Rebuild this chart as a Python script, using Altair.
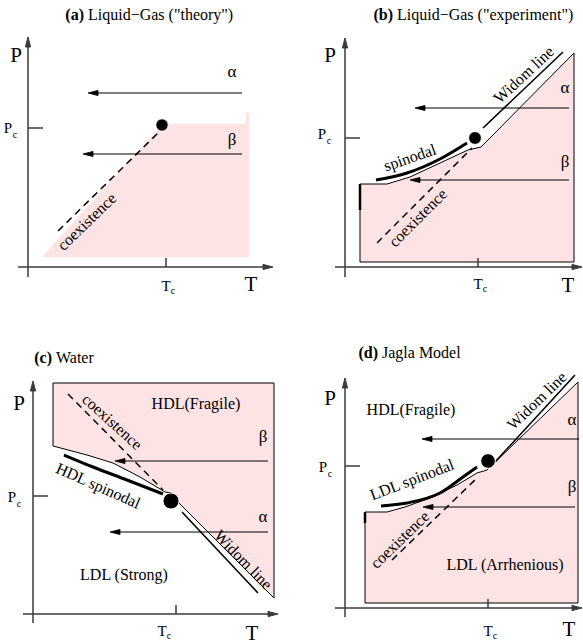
import altair as alt
import pandas as pd

# ------------------------------------------------------------------
# Schematic coordinates (T to the right, P drawn downward-reversed)
# ------------------------------------------------------------------
DOMAIN_T = [0, 583]
DOMAIN_P = [0, 644]

# panel titles: bold tag + plain text
TITLE_TAG = ["(a)", "(b)", "(c)", "(d)"]
TITLE_TEXT = ['Liquid\u2212Gas ("theory")', 'Liquid\u2212Gas ("experiment")', "Water", "Jagla Model"]
TITLE_TEXT_X = [88, 397, 56, 382]
TITLE_Y = [15, 15, 358, 353]

# hand-drawn axes
YAX_X = [28, 345, 33, 345]
YAX_BOTTOM = [277, 277, 623, 617]
YAX_TOP = [37, 38, 381, 378]
XAX_Y = [267, 267, 614, 608]
XAX_LEFT = [18, 335, 23, 335]
XAX_RIGHT = [273, 582, 278, 582]
PC_Y = [128, 138, 496, 466]
TC_X = [166, 478, 176, 488]

# axis letters
BIG_P_X = [16, 330, 19, 330]
BIG_P_Y = [56, 56, 404, 399]
BIG_T_X = [251, 568, 252, 569]
BIG_T_Y = [285, 286, 634, 630]
PC_LABEL_X = [8, 322, 12, 323]
PC_LABEL_Y = [128, 134, 497, 467]
TC_LABEL_X = [166, 478, 162, 488]
TC_LABEL_Y = [286, 284, 631, 631]

# horizontal quench paths (alpha / beta)
ARROW_Y = [93, 154, 108, 180, 461, 532, 439, 507]
ARROW_FROM = [242, 242, 569, 569, 268, 268, 579, 575]
ARROW_TO = [88, 83, 415, 410, 115, 110, 422, 423]
GREEK = ["\u03b1", "\u03b2", "\u03b1", "\u03b2", "\u03b2", "\u03b1", "\u03b1", "\u03b2"]
GREEK_X = [232, 232, 565, 565, 263, 263, 572, 572]
GREEK_Y = [72, 140, 88, 162, 437, 517, 420, 487]

# critical points
CP_T = [162, 475, 171, 488]
CP_P = [125, 138, 501, 461]

# coexistence (dashed) lines: start/end
COEX_T0 = [58, 377, 68, 392]
COEX_P0 = [231, 243, 394, 560]
COEX_T1 = [160, 472, 163, 477]
COEX_P1 = [131, 148, 490, 478]

# Widom lines (panels b, c, d)
WIDOM_T0 = [483, 182, 495]
WIDOM_P0 = [128, 512, 462]
WIDOM_T1 = [563, 258, 575]
WIDOM_P1 = [52, 593, 375]

# spinodal curves
SPIN_B_T = [376, 407, 440, 467]
SPIN_B_P = [180, 173, 159, 143]
SPIN_C_T = [64, 93, 127, 163]
SPIN_C_P = [455, 467, 480, 494]
SPIN_D_T = [381, 407, 440, 463, 477]
SPIN_D_P = [506, 503, 493, 477, 467]

# shaded (pink) regions
REG_A_T = [42, 163, 246, 246, 249, 249, 42]
REG_A_P = [257, 124, 124, 113, 113, 257, 257]
REG_B_T = [360, 574, 574, 481, 468, 440, 410, 387, 360, 360]
REG_B_P = [262, 262, 53, 147, 150, 163, 177, 184, 184, 262]
REG_C_T = [53, 274, 274, 178, 172, 165, 140, 113, 87, 53, 53]
REG_C_P = [383, 383, 598, 502, 493, 492, 477, 463, 455, 446, 383]
REG_D_T = [365, 578, 578, 487, 477, 457, 430, 405, 387, 365, 365]
REG_D_P = [603, 603, 382, 470, 473, 485, 498, 507, 512, 512, 603]

# short thick marks on left edges (b, d)
EDGE_T = [360, 365]
EDGE_P0 = [184, 512]
EDGE_P1 = [210, 523]

# region / line labels
LABEL_TEXT = ["coexistence", "Widom line", "spinodal", "coexistence",
              "HDL(Fragile)", "LDL (Strong)", "HDL spinodal", "coexistence", "Widom line",
              "HDL(Fragile)", "LDL (Arrhenious)", "LDL spinodal", "coexistence", "Widom line"]
LABEL_T = [87, 524, 410, 418, 196, 124, 98, 112, 243, 411, 505, 412, 400, 537]
LABEL_P = [222, 75, 158, 218, 404, 575, 486, 422, 560, 410, 565, 480, 540, 401]
LABEL_ANGLE = [316, 317, 341, 315, 0, 0, 24, 42, 46, 0, 0, 339, 316, 316]

# ------------------------------------------------------------------
FONT = "Liberation Serif"
PINK = "#fde3e3"
AXIS = "#3a3a3a"
DOT_SIZES = [155, 165, 260, 215]
HEAD_LEN = 10     # arrowhead length
HEAD_HALF = 2.6   # arrowhead half width

xs = alt.Scale(domain=DOMAIN_T, nice=False, zero=False)
ys = alt.Scale(domain=DOMAIN_P, nice=False, zero=False, reverse=True)


def X(f="t"):
    return alt.X(f"{f}:Q", scale=xs, axis=None)


def Y(f="p"):
    return alt.Y(f"{f}:Q", scale=ys, axis=None)


def poly_df(ts, ps, name):
    return pd.DataFrame({"t": ts, "p": ps, "i": range(len(ts)), "g": name})


def head_df(tips_t, tips_p, direction, prefix):
    """Triangular arrowheads whose tips sit at the given points."""
    frames = []
    for k, (tt, pp) in enumerate(zip(tips_t, tips_p)):
        if direction == "left":
            ts = [tt, tt + HEAD_LEN, tt + HEAD_LEN, tt]
            ps = [pp, pp - HEAD_HALF, pp + HEAD_HALF, pp]
        elif direction == "right":
            ts = [tt, tt - HEAD_LEN, tt - HEAD_LEN, tt]
            ps = [pp, pp - HEAD_HALF, pp + HEAD_HALF, pp]
        else:  # up
            ts = [tt, tt - HEAD_HALF, tt + HEAD_HALF, tt]
            ps = [pp, pp + HEAD_LEN, pp + HEAD_LEN, pp]
        frames.append(poly_df(ts, ps, f"{prefix}{k}"))
    return pd.concat(frames)


# regions
reg_a = alt.Chart(poly_df(REG_A_T, REG_A_P, "a")).mark_line(
    fill=PINK, stroke=PINK, strokeWidth=0.5).encode(x=X(), y=Y(), order="i:Q", detail="g:N")
reg_bcd = alt.Chart(pd.concat([poly_df(REG_B_T, REG_B_P, "b"),
                               poly_df(REG_C_T, REG_C_P, "c"),
                               poly_df(REG_D_T, REG_D_P, "d")])).mark_line(
    fill=PINK, stroke="black", strokeWidth=1).encode(x=X(), y=Y(), order="i:Q", detail="g:N")

# axes
ax_df = pd.DataFrame({"yx": YAX_X, "yb": YAX_BOTTOM, "yt": YAX_TOP, "xy": XAX_Y,
                      "xl": XAX_LEFT, "xr": XAX_RIGHT, "pc": PC_Y, "tc": TC_X})
ax_df["yt2"] = ax_df["yt"] + 5
ax_df["xr2"] = ax_df["xr"] - 5
ax_df["pct"] = ax_df["yx"] + 15
ax_df["tct"] = ax_df["xy"] - 9
yaxis = alt.Chart(ax_df).mark_rule(color=AXIS, strokeWidth=1.5).encode(
    x=X("yx"), y=Y("yb"), y2=alt.Y2("yt2"))
xaxis = alt.Chart(ax_df).mark_rule(color=AXIS, strokeWidth=1.5).encode(
    x=X("xl"), x2=alt.X2("xr2"), y=Y("xy"))
pctick = alt.Chart(ax_df).mark_rule(color=AXIS, strokeWidth=1.5).encode(
    x=X("yx"), x2=alt.X2("pct"), y=Y("pc"))
tctick = alt.Chart(ax_df).mark_rule(color=AXIS, strokeWidth=1.5).encode(
    x=X("tc"), y=Y("xy"), y2=alt.Y2("tct"))
axis_heads = alt.Chart(pd.concat([head_df(YAX_X, YAX_TOP, "up", "u"),
                                  head_df(XAX_RIGHT, XAX_Y, "right", "r")])).mark_line(
    fill=AXIS, stroke=AXIS, strokeWidth=1, strokeJoin="miter").encode(
    x=X(), y=Y(), order="i:Q", detail="g:N")

# quench arrows
ar_df = pd.DataFrame({"y": ARROW_Y, "x0": ARROW_FROM, "x1": ARROW_TO})
ar_df["xh"] = ar_df["x1"] + 6
arrows = alt.Chart(ar_df).mark_rule(color="black", strokeWidth=1).encode(
    x=X("x0"), x2=alt.X2("xh"), y=Y("y"))
heads = alt.Chart(head_df(ARROW_TO, ARROW_Y, "left", "h")).mark_line(
    fill="black", stroke="black", strokeWidth=0.8, strokeJoin="miter").encode(
    x=X(), y=Y(), order="i:Q", detail="g:N")
greek = alt.Chart(pd.DataFrame({"s": GREEK, "t": GREEK_X, "p": GREEK_Y})).mark_text(
    font=FONT, fontSize=17, color="black", baseline="middle", align="center").encode(
    x=X(), y=Y(), text="s:N")

# coexistence dashed lines
coex = alt.Chart(pd.DataFrame({"t0": COEX_T0, "p0": COEX_P0, "t1": COEX_T1, "p1": COEX_P1})).mark_rule(
    color="black", strokeWidth=1.5, strokeDash=[7, 5]).encode(
    x=X("t0"), y=Y("p0"), x2=alt.X2("t1"), y2=alt.Y2("p1"))

# widom lines
widom = alt.Chart(pd.DataFrame({"t0": WIDOM_T0, "p0": WIDOM_P0, "t1": WIDOM_T1, "p1": WIDOM_P1})).mark_rule(
    color="black", strokeWidth=1.6).encode(
    x=X("t0"), y=Y("p0"), x2=alt.X2("t1"), y2=alt.Y2("p1"))

# spinodals
spin = alt.Chart(pd.concat([poly_df(SPIN_B_T, SPIN_B_P, "b"),
                            poly_df(SPIN_C_T, SPIN_C_P, "c"),
                            poly_df(SPIN_D_T, SPIN_D_P, "d")])).mark_line(
    color="black", strokeWidth=3, interpolate="monotone", strokeCap="butt").encode(
    x=X(), y=Y(), order="i:Q", detail="g:N")

# edge marks
edges = alt.Chart(pd.DataFrame({"t": EDGE_T, "p0": EDGE_P0, "p1": EDGE_P1})).mark_rule(
    color="black", strokeWidth=2.5).encode(x=X(), y=Y("p0"), y2=alt.Y2("p1"))

# critical points
cp_df = pd.DataFrame({"t": CP_T, "p": CP_P, "s": DOT_SIZES})
dots = alt.Chart(cp_df).mark_circle(color="black", opacity=1, stroke="white", strokeWidth=1).encode(
    x=X(), y=Y(), size=alt.Size("s:Q", scale=None))

# labels
lab = alt.Chart(pd.DataFrame({"s": LABEL_TEXT, "t": LABEL_T, "p": LABEL_P, "a": LABEL_ANGLE})).mark_text(
    font=FONT, fontSize=16, color="black", baseline="middle", align="center").encode(
    x=X(), y=Y(), text="s:N", angle=alt.Angle("a:Q", scale=None))

# axis letters
bigP = alt.Chart(pd.DataFrame({"t": BIG_P_X, "p": BIG_P_Y, "s": "P"})).mark_text(
    font=FONT, fontSize=21, baseline="middle", align="center", color="black").encode(x=X(), y=Y(), text="s:N")
bigT = alt.Chart(pd.DataFrame({"t": BIG_T_X, "p": BIG_T_Y, "s": "T"})).mark_text(
    font=FONT, fontSize=21, baseline="middle", align="center", color="black").encode(x=X(), y=Y(), text="s:N")
pc_df = pd.DataFrame({"t": PC_LABEL_X, "p": PC_LABEL_Y, "s": "P"})
pc_df["ts"] = pc_df["t"] + 7
pc_df["ps"] = pc_df["p"] + 7
pcP = alt.Chart(pc_df).mark_text(font=FONT, fontSize=15, baseline="middle", align="center",
                                  color="black").encode(x=X(), y=Y(), text="s:N")
pcC = alt.Chart(pc_df).mark_text(font=FONT, fontSize=10, baseline="middle", align="center",
                                  color="black", text="c").encode(x=X("ts"), y=Y("ps"))
tc_df = pd.DataFrame({"t": TC_LABEL_X, "p": TC_LABEL_Y, "s": "T"})
tc_df["ts"] = tc_df["t"] + 7
tc_df["ps"] = tc_df["p"] + 5
tcT = alt.Chart(tc_df).mark_text(font=FONT, fontSize=15, baseline="middle", align="center",
                                  color="black").encode(x=X(), y=Y(), text="s:N")
tcC = alt.Chart(tc_df).mark_text(font=FONT, fontSize=10, baseline="middle", align="center",
                                  color="black", text="c").encode(x=X("ts"), y=Y("ps"))

# titles
ttl_df = pd.DataFrame({"tag": TITLE_TAG, "s": TITLE_TEXT, "t": TITLE_TEXT_X, "p": TITLE_Y})
ttl_df["tt"] = ttl_df["t"] - 4
tag = alt.Chart(ttl_df).mark_text(
    font=FONT, fontSize=16, fontWeight="bold", baseline="middle", align="right", color="black").encode(
    x=X("tt"), y=Y(), text="tag:N")
ttl = alt.Chart(ttl_df).mark_text(
    font=FONT, fontSize=16, baseline="middle", align="left", color="black").encode(
    x=X(), y=Y(), text="s:N")

chart = alt.layer(
    reg_a, reg_bcd, coex, widom, spin, edges, arrows, heads,
    yaxis, xaxis, pctick, tctick, axis_heads, dots,
    lab, greek, bigP, bigT, pcP, pcC, tcT, tcC, tag, ttl
).properties(
    width=583, height=644, padding=0, autosize="none", background="white"
).configure_view(strokeWidth=0)

chart.save("out.html", embed_options={"renderer": "svg", "actions": False})
